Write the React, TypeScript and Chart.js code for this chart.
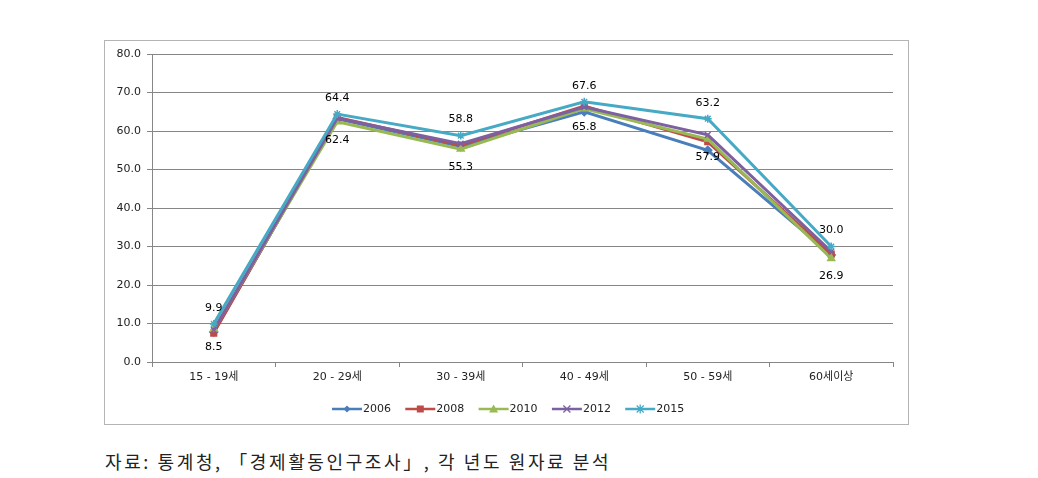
import React, { useEffect, useRef } from "react";
import { Chart, registerables } from "chart.js";

Chart.register(...registerables);

const categories = ["15 - 19세", "20 - 29세", "30 - 39세", "40 - 49세", "50 - 59세", "60세이상"];
const years = ["2006", "2008", "2010", "2012", "2015"];
const v2006 = [7.8, 63.2, 56.0, 65.0, 55.0, 27.8];
const v2008 = [7.5, 63.5, 56.3, 66.5, 57.2, 28.0];
const v2010 = [8.5, 62.4, 55.3, 65.8, 57.9, 26.9];
const v2012 = [8.3, 63.3, 56.7, 66.2, 59.0, 28.7];
const v2015 = [9.9, 64.4, 58.8, 67.6, 63.2, 30.0];
const yTicks = [0, 10, 20, 30, 40, 50, 60, 70, 80];
const caption = "자료: 통계청, 「경제활동인구조사」, 각 년도 원자료 분석";

const colors = ["#4A7EBB", "#BE4B48", "#98B954", "#7D60A0", "#46AAC5"];
const styles = ["rectRot", "rect", "triangle", "crossRot", "star"];
const seriesValues = [v2006, v2008, v2010, v2012, v2015];

const FONT = "'DejaVu Sans', 'Noto Sans CJK KR', sans-serif";

function drawMarker(ctx: CanvasRenderingContext2D, style: string, x: number, y: number, r: number, color: string) {
  ctx.save();
  ctx.fillStyle = color;
  ctx.strokeStyle = color;
  ctx.lineWidth = 1.3;
  ctx.beginPath();
  if (style === "rectRot") {
    ctx.moveTo(x, y - r);
    ctx.lineTo(x + r, y);
    ctx.lineTo(x, y + r);
    ctx.lineTo(x - r, y);
    ctx.closePath();
    ctx.fill();
  } else if (style === "rect") {
    ctx.rect(x - r, y - r, 2 * r, 2 * r);
    ctx.fill();
  } else if (style === "triangle") {
    ctx.moveTo(x, y - r - 1);
    ctx.lineTo(x + r + 1, y + r);
    ctx.lineTo(x - r - 1, y + r);
    ctx.closePath();
    ctx.fill();
  } else if (style === "crossRot") {
    ctx.moveTo(x - r, y - r);
    ctx.lineTo(x + r, y + r);
    ctx.moveTo(x + r, y - r);
    ctx.lineTo(x - r, y + r);
    ctx.stroke();
  } else {
    ctx.moveTo(x - r, y - r);
    ctx.lineTo(x + r, y + r);
    ctx.moveTo(x + r, y - r);
    ctx.lineTo(x - r, y + r);
    ctx.moveTo(x, y - r - 1);
    ctx.lineTo(x, y + r + 1);
    ctx.stroke();
  }
  ctx.restore();
}

const labelPlugin = {
  id: "valueLabels",
  afterDatasetsDraw(chart: any) {
    const ctx = chart.ctx as CanvasRenderingContext2D;
    ctx.save();
    ctx.font = `11px ${FONT}`;
    ctx.fillStyle = "#000";
    ctx.textAlign = "center";
    ctx.textBaseline = "middle";
    const top = chart.getDatasetMeta(4);
    top.data.forEach((p: any, i: number) => {
      ctx.fillText(v2015[i].toFixed(1), p.x, p.y - 16);
    });
    const bot = chart.getDatasetMeta(2);
    bot.data.forEach((p: any, i: number) => {
      ctx.fillText(v2010[i].toFixed(1), p.x, p.y + 18);
    });
    ctx.restore();
  },
};

const legendPlugin = {
  id: "customLegend",
  afterDraw(chart: any) {
    const ctx = chart.ctx as CanvasRenderingContext2D;
    const y = 368;
    const startX = 227;
    const step = 73.3;
    ctx.save();
    ctx.font = `11px ${FONT}`;
    ctx.textBaseline = "middle";
    ctx.textAlign = "left";
    years.forEach((yr, i) => {
      const x0 = startX + i * step;
      ctx.strokeStyle = colors[i];
      ctx.lineWidth = 2.5;
      ctx.beginPath();
      ctx.moveTo(x0, y);
      ctx.lineTo(x0 + 30, y);
      ctx.stroke();
      drawMarker(ctx, styles[i], x0 + 15, y, 3.5, colors[i]);
      ctx.fillStyle = "#222";
      ctx.fillText(yr, x0 + 31, y + 0.5);
    });
    ctx.restore();
  },
};

export default function App() {
  const ref = useRef<HTMLCanvasElement | null>(null);
  useEffect(() => {
    if (!ref.current) return;
    const chart = new Chart(ref.current, {
      type: "line",
      data: {
        labels: categories,
        datasets: years.map((yr, i) => ({
          label: yr,
          data: seriesValues[i],
          borderColor: colors[i],
          backgroundColor: colors[i],
          borderWidth: 3,
          pointStyle: styles[i] as any,
          pointRadius: 4,
          pointBorderWidth: 1.5,
          pointBackgroundColor: colors[i],
          pointBorderColor: colors[i],
          tension: 0,
          order: 5 - i,
        })),
      },
      options: {
        responsive: false,
        animation: false,
        layout: { padding: { left: 0, right: 15, top: 13, bottom: 0 } },
        plugins: {
          legend: { display: false },
          tooltip: { enabled: false },
        },
        scales: {
          x: {
            offset: true,
            grid: {
              offset: true,
              drawOnChartArea: false,
              drawTicks: true,
              tickLength: 5,
              color: "#868686",
            },
            border: { color: "#868686", width: 1 },
            ticks: {
              font: { family: FONT, size: 11 },
              color: "#222",
              padding: 4,
              maxRotation: 0,
            },
            afterFit(scale: any) {
              scale.height = 62;
            },
          },
          y: {
            min: 0,
            max: 80,
            afterBuildTicks(scale: any) {
              scale.ticks = yTicks.map((v) => ({ value: v }));
            },
            grid: { color: "#868686", tickLength: 5, lineWidth: 1 },
            border: { color: "#868686", width: 1 },
            ticks: {
              font: { family: FONT, size: 11 },
              color: "#222",
              padding: 6,
              callback: (v: any) => Number(v).toFixed(1),
            },
            afterFit(scale: any) {
              scale.width = 47;
            },
          },
        },
      },
      plugins: [labelPlugin, legendPlugin],
    });
    return () => chart.destroy();
  }, []);

  return (
    <div style={{ position: "absolute", left: 0, top: 0, width: 1038, height: 478, background: "#fff" }}>
      <div
        style={{
          position: "absolute",
          left: 104,
          top: 40,
          width: 803,
          height: 383,
          border: "1px solid #b4b4b4",
        }}
      >
        <canvas ref={ref} width={803} height={383} style={{ display: "block" }} />
      </div>
      <div
        style={{
          position: "absolute",
          left: 105,
          top: 448,
          fontFamily: "'Noto Sans CJK KR', sans-serif",
          fontSize: 18,
          letterSpacing: "2.6px",
          color: "#222",
          whiteSpace: "nowrap",
          lineHeight: "26px",
        }}
      >
        {caption}
      </div>
    </div>
  );
}
